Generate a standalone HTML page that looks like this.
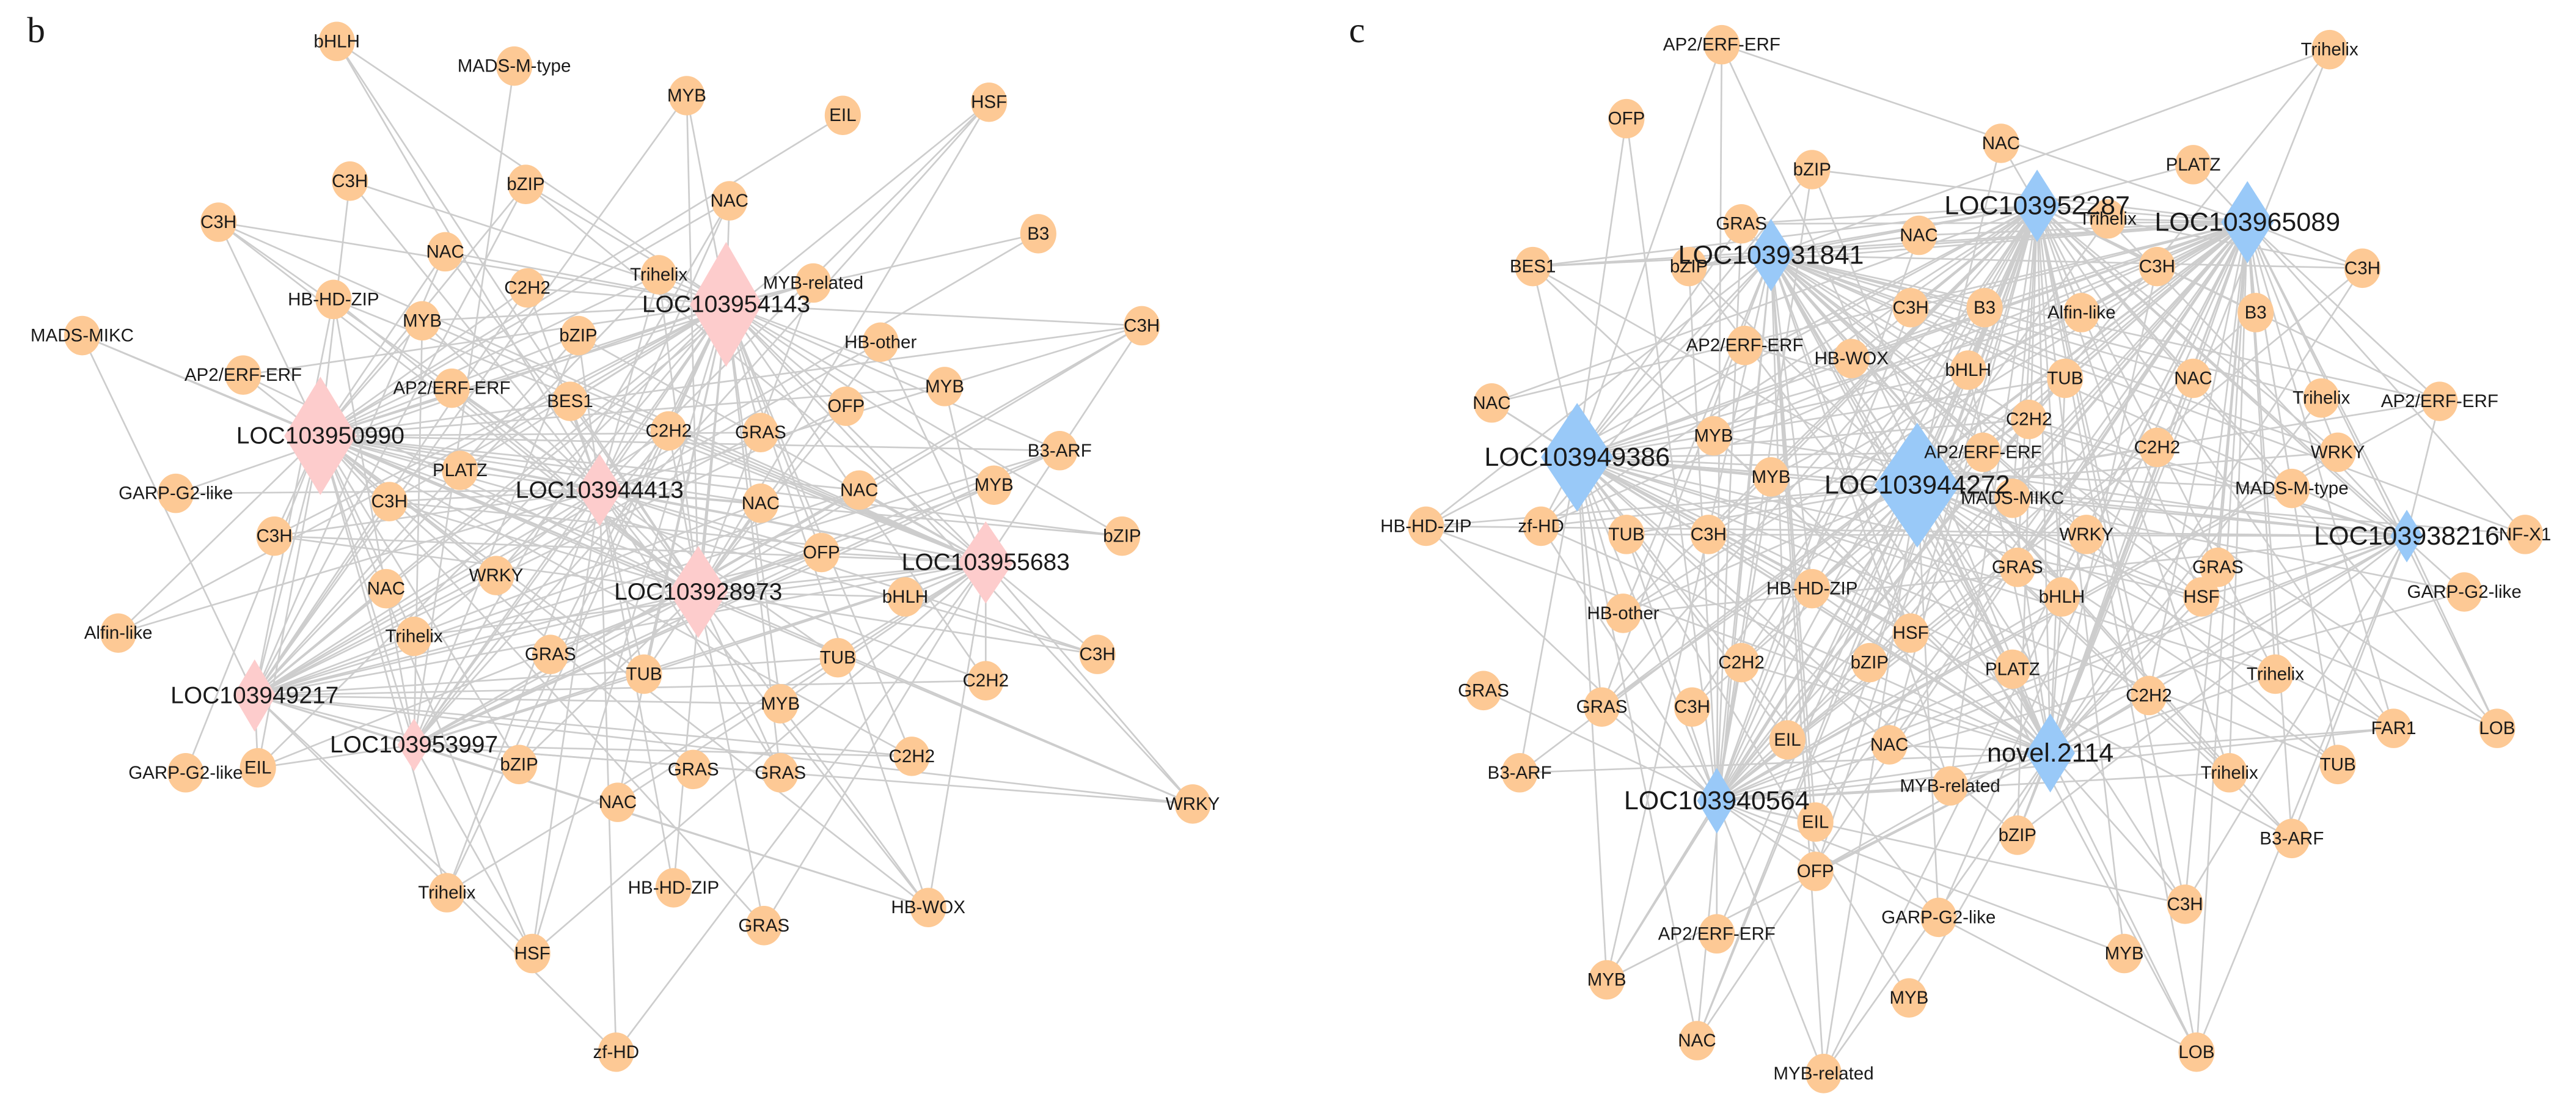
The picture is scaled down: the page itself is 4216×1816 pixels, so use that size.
<!DOCTYPE html>
<html><head><meta charset="utf-8">
<style>
html,body{margin:0;padding:0;background:#fff;}
svg{display:block;}
text{font-family:"Liberation Sans",Arial,sans-serif;fill:#1a1a1a;text-anchor:middle;dominant-baseline:central;}
</style></head>
<body>
<svg id="s" width="4216" height="1816" viewBox="0 0 1568 675" xmlns="http://www.w3.org/2000/svg">
<rect width="1568" height="675" fill="#fff"/>
<g id="edges" stroke="#cdcdcd" stroke-width="1" fill="none"></g>
<g id="nodes"></g>
<text x="22" y="18" style="font-family:'Liberation Serif',serif;font-size:22px">b</text>
<text x="826" y="18" style="font-family:'Liberation Serif',serif;font-size:22px">c</text>
</svg>
<script>
var B=[["bHLH",205,25],["MADS-M-type",313,40],["MYB",418,58],["EIL",513,70],["HSF",602,62],["C3H",213,110],["bZIP",320,112],["NAC",444,122],["C3H",133,135],["B3",632,142],["NAC",271,153],["C2H2",321,175],["Trihelix",401,167],["MYB-related",495,172],["HB-HD-ZIP",203,182],["MYB",257,195],["bZIP",352,204],["MADS-MIKC",50,204],["C3H",695,198],["HB-other",536,208],["AP2/ERF-ERF",148,228],["AP2/ERF-ERF",275,236],["MYB",575,235],["BES1",347,244],["OFP",515,247],["C2H2",407,262],["GRAS",463,263],["B3-ARF",645,274],["PLATZ",280,286],["GARP-G2-like",107,300],["C3H",237,305],["NAC",463,306],["NAC",523,298],["MYB",605,295],["C3H",167,326],["OFP",500,336],["bZIP",683,326],["NAC",235,358],["WRKY",302,350],["bHLH",551,363],["Alfin-like",72,385],["Trihelix",252,387],["GRAS",335,398],["TUB",392,410],["TUB",510,400],["C3H",668,398],["C2H2",600,414],["MYB",475,428],["GARP-G2-like",113,470],["EIL",157,467],["bZIP",316,465],["NAC",376,488],["GRAS",422,468],["GRAS",475,470],["C2H2",555,460],["WRKY",726,489],["Trihelix",272,543],["HB-HD-ZIP",410,540],["GRAS",465,563],["HB-WOX",565,552],["HSF",324,580],["zf-HD",375,640]];
var BH=[["LOC103954143",442,185,22,38],["LOC103950990",195,265,22,36],["LOC103944413",365,298,14,22],["LOC103928973",425,360,18,28],["LOC103955683",600,342,17,25],["LOC103949217",155,423,13,22],["LOC103953997",252,453,10,16]];
var C=[["AP2/ERF-ERF",1048,27],["Trihelix",1418,30],["NAC",1218,87],["OFP",990,72],["bZIP",1103,103],["PLATZ",1335,100],["GRAS",1060,136],["Trihelix",1283,133],["NAC",1168,143],["C3H",1438,163],["BES1",933,162],["bZIP",1028,162],["C3H",1313,162],["C3H",1163,187],["B3",1208,187],["Alfin-like",1267,190],["B3",1373,190],["AP2/ERF-ERF",1062,210],["HB-WOX",1127,218],["bHLH",1198,225],["TUB",1257,230],["NAC",1335,230],["Trihelix",1413,242],["AP2/ERF-ERF",1485,244],["NAC",908,245],["C2H2",1235,255],["MYB",1043,265],["AP2/ERF-ERF",1207,275],["C2H2",1313,272],["WRKY",1423,275],["MYB",1078,290],["MADS-MIKC",1225,303],["MADS-M-type",1395,297],["HB-HD-ZIP",868,320],["zf-HD",938,320],["TUB",990,325],["C3H",1040,325],["WRKY",1270,325],["NF-X1",1537,325],["GRAS",1228,345],["GRAS",1350,345],["HB-HD-ZIP",1103,358],["bHLH",1255,363],["HSF",1340,363],["GARP-G2-like",1500,360],["HB-other",988,373],["HSF",1163,385],["PLATZ",1225,407],["Trihelix",1385,410],["C2H2",1060,403],["bZIP",1138,403],["C2H2",1308,423],["FAR1",1457,443],["LOB",1520,443],["GRAS",903,420],["GRAS",975,430],["C3H",1030,430],["EIL",1088,450],["NAC",1150,453],["TUB",1423,465],["MYB-related",1187,478],["Trihelix",1357,470],["B3-ARF",925,470],["EIL",1105,500],["bZIP",1228,508],["B3-ARF",1395,510],["OFP",1105,530],["GARP-G2-like",1180,558],["C3H",1330,550],["AP2/ERF-ERF",1045,568],["MYB",1293,580],["MYB",978,596],["MYB",1162,607],["NAC",1033,633],["LOB",1337,640],["MYB-related",1110,653]];
var CH=[["LOC103952287",1240,125,14,22],["LOC103965089",1368,135,16,25],["LOC103931841",1078,155,14,22],["LOC103949386",960,278,22,33],["LOC103944272",1167,295,26,38],["LOC103938216",1465,326,10,16],["novel.2114",1248,458,15,24],["LOC103940564",1045,487,12,20]];
var seed=7;function rnd(){seed=(seed*16807)%2147483647;return seed/2147483647;}
var E=document.getElementById("edges"),N=document.getElementById("nodes"),ns="http://www.w3.org/2000/svg";
function el(p,t,a){var e=document.createElementNS(ns,t);for(var k in a)e.setAttribute(k,a[k]);p.appendChild(e);return e;}
function build(nodes,hubs,color,hfs){
 nodes.forEach(function(n,i){
  var c=0;hubs.forEach(function(h,j){var p=j<2?0.7:0.5;if(h[3]<12)p=0.3;if(rnd()<p){el(E,"line",{x1:n[1],y1:n[2],x2:h[1],y2:h[2]});c++;}});
  if(!c){var h=hubs[Math.floor(rnd()*hubs.length)];el(E,"line",{x1:n[1],y1:n[2],x2:h[1],y2:h[2]});}
 });
 for(var i=0;i<hubs.length;i++)for(var j=i+1;j<hubs.length;j++)el(E,"line",{x1:hubs[i][1],y1:hubs[i][2],x2:hubs[j][1],y2:hubs[j][2]});
 nodes.forEach(function(n){el(N,"ellipse",{cx:n[1],cy:n[2],rx:11,ry:12,fill:"#fdc995"});});
 hubs.forEach(function(h){el(N,"polygon",{points:(h[1])+","+(h[2]-h[4])+" "+(h[1]+h[3])+","+h[2]+" "+h[1]+","+(h[2]+h[4])+" "+(h[1]-h[3])+","+h[2],fill:color});});
 nodes.forEach(function(n){var t=el(N,"text",{x:n[1],y:n[2],"font-size":11});t.textContent=n[0];});
 hubs.forEach(function(h){var t=el(N,"text",{x:h[1],y:h[2],"font-size":hfs});t.textContent=h[0];});
}
build(B,BH,"#fdcccc",14.5);
build(C,CH,"#99c9f8",16);
</script>
</body></html>
